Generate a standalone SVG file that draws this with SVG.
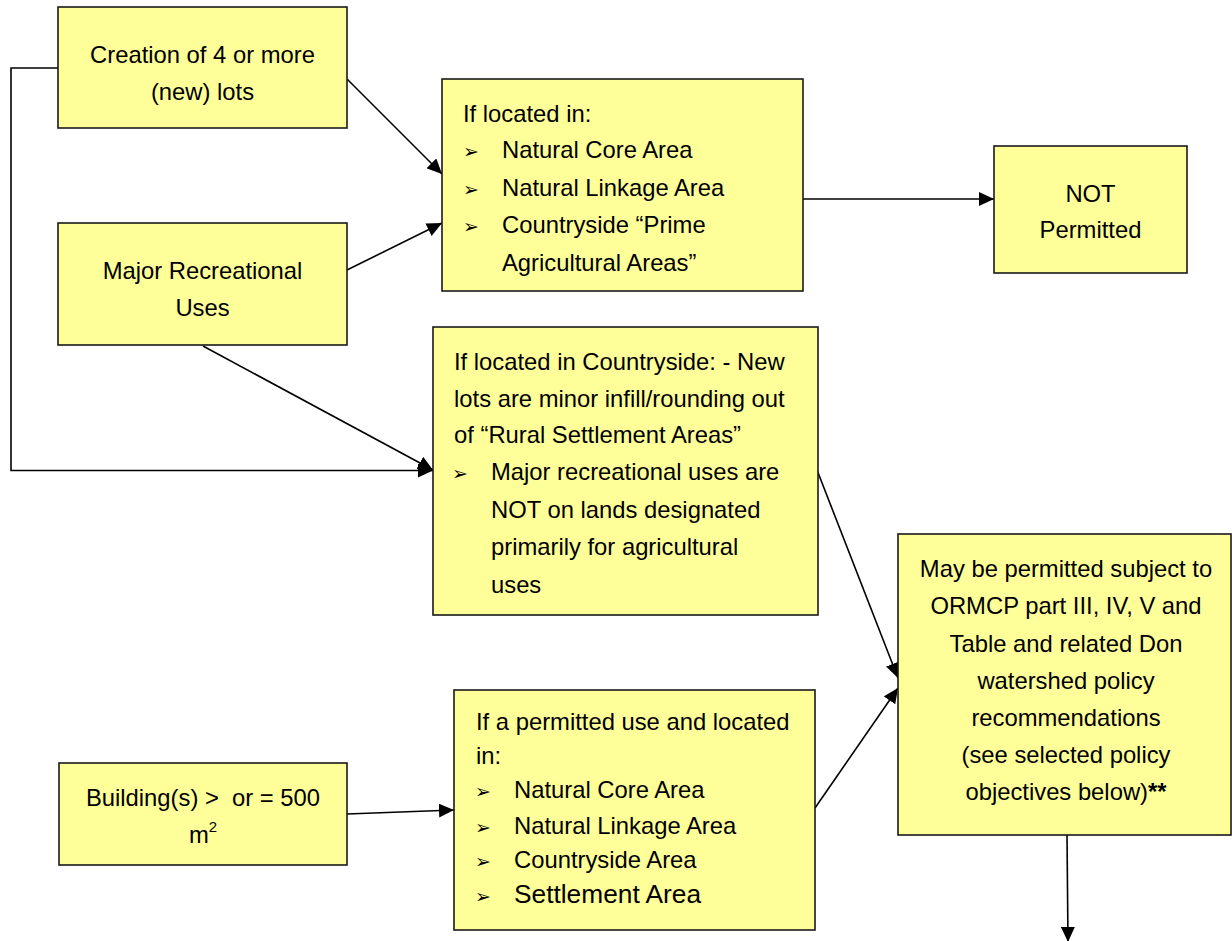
<svg xmlns="http://www.w3.org/2000/svg" width="1232" height="941" viewBox="0 0 1232 941">
<style>
.box{fill:#FFFF99;stroke:#1a1a1a;stroke-width:1.6}
text{font-family:"Liberation Sans",Arial,sans-serif;font-size:23.8px;fill:#000}
.c{text-anchor:middle}
.big{font-size:26.3px}
.blt{font-family:"DejaVu Sans",sans-serif;font-size:19px}
.conn{fill:none;stroke:#000;stroke-width:1.6}
</style>
<defs>
<marker id="ah" markerUnits="userSpaceOnUse" markerWidth="16" markerHeight="14" refX="15" refY="7" orient="auto">
<path d="M0,0 L15,7 L0,14 z" fill="#000"/>
</marker>
</defs>
<rect width="1232" height="941" fill="#fff"/>
<g id="connectors">
<line class="conn" x1="347" y1="79" x2="442" y2="174" marker-end="url(#ah)"/>
<line class="conn" x1="347" y1="270" x2="442" y2="223" marker-end="url(#ah)"/>
<line class="conn" x1="203" y1="346" x2="433" y2="470" marker-end="url(#ah)"/>
<polyline class="conn" points="58,68 11,68 11,470.5 433,470.5" marker-end="url(#ah)"/>
<line class="conn" x1="802" y1="199" x2="994" y2="199" marker-end="url(#ah)"/>
<line class="conn" x1="817" y1="470" x2="898" y2="678" marker-end="url(#ah)"/>
<line class="conn" x1="815" y1="808" x2="898" y2="688" marker-end="url(#ah)"/>
<line class="conn" x1="347" y1="814" x2="454" y2="810" marker-end="url(#ah)"/>
<line class="conn" x1="1067" y1="835" x2="1068" y2="942" marker-end="url(#ah)"/>
</g>
<g id="creation">
<rect class="box" x="58" y="7" width="289" height="121"/>
<text class="c" x="202.5" y="63">Creation of 4 or more</text>
<text class="c" x="202.5" y="100">(new) lots</text>
</g>
<g id="major-rec">
<rect class="box" x="58" y="223" width="289" height="122"/>
<text class="c" x="202.5" y="279">Major Recreational</text>
<text class="c" x="202.5" y="316">Uses</text>
</g>
<g id="located-in">
<rect class="box" x="442" y="79" width="361" height="212"/>
<text x="463" y="122">If located in:</text>
<text class="blt" x="463" y="158">➢</text>
<text x="502" y="158">Natural Core Area</text>
<text class="blt" x="463" y="196">➢</text>
<text x="502" y="196">Natural Linkage Area</text>
<text class="blt" x="463" y="233">➢</text>
<text x="502" y="233">Countryside “Prime</text>
<text x="502" y="271">Agricultural Areas”</text>
</g>
<g id="not-permitted">
<rect class="box" x="994" y="146" width="193" height="127"/>
<text class="c" x="1090.5" y="202">NOT</text>
<text class="c" x="1090.5" y="238">Permitted</text>
</g>
<g id="countryside">
<rect class="box" x="433" y="327" width="385" height="288"/>
<text x="454" y="370">If located in Countryside: - New</text>
<text x="454" y="407">lots are minor infill/rounding out</text>
<text x="454" y="443">of “Rural Settlement Areas”</text>
<text class="blt" x="452" y="480">➢</text>
<text x="491" y="480">Major recreational uses are</text>
<text x="491" y="518">NOT on lands designated</text>
<text x="491" y="555">primarily for agricultural</text>
<text x="491" y="593">uses</text>
</g>
<g id="may-be-permitted">
<rect class="box" x="898" y="534" width="333" height="301"/>
<text class="c" x="1066" y="577">May be permitted subject to</text>
<text class="c" x="1066" y="614">ORMCP part III, IV, V and</text>
<text class="c" x="1066" y="652">Table and related Don</text>
<text class="c" x="1066" y="689">watershed policy</text>
<text class="c" x="1066" y="726">recommendations</text>
<text class="c" x="1066" y="763">(see selected policy</text>
<text class="c" x="1066" y="800">objectives below)<tspan font-weight="bold">**</tspan></text>
</g>
<g id="building">
<rect class="box" x="59" y="763" width="288" height="102"/>
<text class="c" x="203" y="806" xml:space="preserve">Building(s) &gt;  or = 500</text>
<text class="c" x="203" y="843">m<tspan font-size="15" dy="-11">2</tspan></text>
</g>
<g id="permitted-use">
<rect class="box" x="454" y="690" width="361" height="240"/>
<text x="476" y="730">If a permitted use and located</text>
<text x="476" y="764">in:</text>
<text class="blt" x="475" y="798">➢</text>
<text x="514" y="798">Natural Core Area</text>
<text class="blt" x="475" y="834">➢</text>
<text x="514" y="834">Natural Linkage Area</text>
<text class="blt" x="475" y="868">➢</text>
<text x="514" y="868">Countryside Area</text>
<text class="blt" x="475" y="903">➢</text>
<text class="big" x="514" y="903">Settlement Area</text>
</g>
</svg>
